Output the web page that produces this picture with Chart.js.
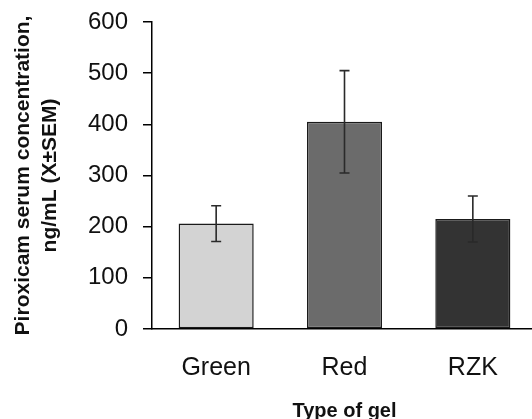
<!DOCTYPE html>
<html>
<head>
<meta charset="utf-8">
<script src="https://cdn.jsdelivr.net/npm/chart.js@4.4.1/dist/chart.umd.min.js"></script>
<style>
  html, body { margin: 0; padding: 0; background: #fff; overflow: hidden; width: 532px; height: 419px; }
  #wrap { position: absolute; left: 0; top: 0; width: 537px; height: 424px; }
</style>
</head>
<body>
<div id="wrap"><canvas id="c"></canvas></div>
<script>
const categories = ["Green", "Red", "RZK"];
const means = [206, 405, 215];
const sem = [35, 100, 45];
const barColors = ["#d3d3d3", "#6b6b6b", "#333333"];
const yTicks = [0, 100, 200, 300, 400, 500, 600];
const yTitle = ["Piroxicam serum concentration,", "ng/mL (X\u00b1SEM)"];
const xTitle = "Type of gel";

const FONT = "'Liberation Sans', Arial, Helvetica, sans-serif";

const errorBars = {
  id: "errorBars",
  afterDatasetsDraw(chart) {
    const ctx = chart.ctx;
    const meta = chart.getDatasetMeta(0);
    const y = chart.scales.y;
    ctx.save();
    ctx.strokeStyle = "#2a2a2a";
    ctx.lineWidth = 1.6;
    meta.data.forEach((bar, i) => {
      const x = bar.x;
      const yTop = y.getPixelForValue(means[i] + sem[i]);
      const yBot = y.getPixelForValue(means[i] - sem[i]);
      const cap = 5;
      ctx.beginPath();
      ctx.moveTo(x, yTop); ctx.lineTo(x, yBot);
      ctx.moveTo(x - cap, yTop); ctx.lineTo(x + cap, yTop);
      ctx.moveTo(x - cap, yBot); ctx.lineTo(x + cap, yBot);
      ctx.stroke();
    });
    ctx.restore();
  }
};

new Chart(document.getElementById("c"), {
  type: "bar",
  data: {
    labels: categories,
    datasets: [{
      data: means,
      backgroundColor: barColors,
      borderColor: "#1a1a1a",
      borderWidth: 1.5,
      borderSkipped: false,
      barPercentage: 0.585,
      categoryPercentage: 1.0
    }]
  },
  options: {
    responsive: true,
    maintainAspectRatio: false,
    animation: false,
    devicePixelRatio: 1,
    layout: { padding: { top: 22, right: 0, bottom: 0, left: 0 } },
    plugins: { legend: { display: false }, tooltip: { enabled: false } },
    scales: {
      x: {
        grid: { display: false },
        border: { display: true, color: "#000", width: 1.5 },
        ticks: { color: "#111", font: { family: FONT, size: 25 }, padding: 16 },
        title: { display: true, text: xTitle, color: "#111", font: { family: FONT, size: 20, weight: "bold" }, padding: { top: 0, bottom: 1 } },
        afterFit(scale) { scale.height = 95; }
      },
      y: {
        min: 0, max: 600,
        afterBuildTicks(scale) { scale.ticks = yTicks.map(v => ({ value: v })); },
        grid: { display: true, drawOnChartArea: false, drawTicks: true, tickLength: 9, color: "#000", lineWidth: 1.5 },
        border: { display: true, color: "#000", width: 1.5 },
        ticks: { color: "#111", font: { family: FONT, size: 24 }, padding: 15 },
        title: { display: true, text: yTitle, color: "#111", font: { family: FONT, size: 21, weight: "bold", lineHeight: 1.3 }, padding: { top: 9.5, bottom: 0 } },
        afterFit(scale) { scale.width = 152; scale.paddingTop = 0; }
      }
    }
  },
  plugins: [errorBars]
});
</script>
</body>
</html>
